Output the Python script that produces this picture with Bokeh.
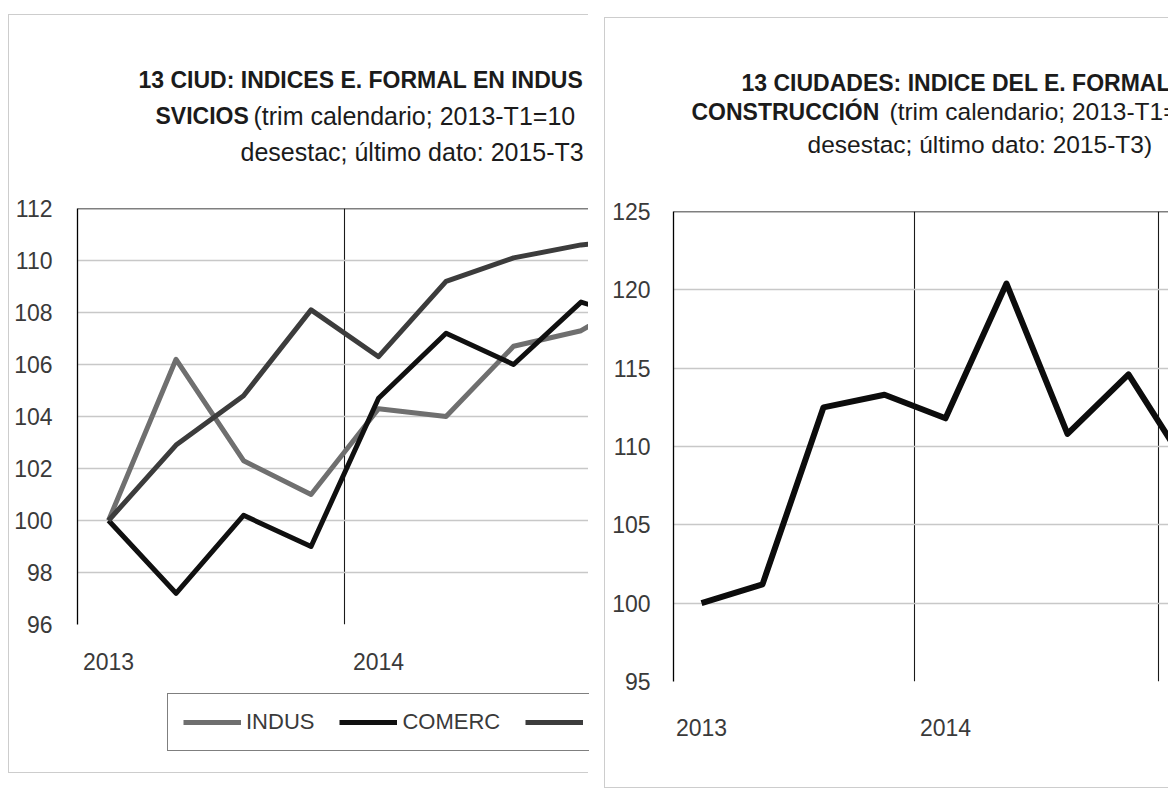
from bokeh.plotting import figure
from bokeh.layouts import row, column
from bokeh.models import (Range1d, FixedTicker, Span, Label, Legend, LegendItem,
                          ColumnDataSource)
from bokeh.embed import file_html
from bokeh.resources import INLINE

# ---------------- data ----------------
quarters = ["2013-T1", "2013-T2", "2013-T3", "2013-T4",
            "2014-T1", "2014-T2", "2014-T3", "2014-T4", "2015-T1"]
year_ticks = [0, 4, 8]
year_names = ["2013", "2014", "2015"]
year_bounds = [3.5, 7.5]

indus = [100.0, 106.2, 102.3, 101.0, 104.3, 104.0, 106.7, 107.3, 108.8]
comerc = [100.0, 97.2, 100.2, 99.0, 104.7, 107.2, 106.0, 108.4, 107.6]
svicios = [100.0, 102.9, 104.8, 108.1, 106.3, 109.2, 110.1, 110.6, 110.8]
construccion = [100.0, 101.2, 112.5, 113.3, 111.8, 120.4, 110.8, 114.6, 108.5]

series_names = ["INDUS", "COMERC", "SVICIOS"]

left_yticks = [96, 98, 100, 102, 104, 106, 108, 110, 112]
right_yticks = [95, 100, 105, 110, 115, 120, 125]

left_title = ["13 CIUD: INDICES E. FORMAL EN INDUS", "SVICIOS",
              "(trim calendario; 2013-T1=10", "desestac; último dato: 2015-T3"]
right_title = ["13 CIUDADES: INDICE DEL E. FORMAL", "CONSTRUCCIÓN",
               "(trim calendario; 2013-T1=", "desestac; último dato:  2015-T3)"]

# ---------------- style ----------------
FONT = "Liberation Sans"
TXT = "#1b1b1b"
TICK = "#3a3a3a"
GRID = "#c8c8c8"
PANEL = "1px solid #cdcdcd"
SERIES_STYLE = {"indus": "#6f6f6f", "comerc": "#101010", "svicios": "#3c3c3c"}

src = ColumnDataSource(dict(x=list(range(len(quarters))), q=quarters,
                            indus=indus, comerc=comerc, svicios=svicios,
                            construccion=construccion))


def style_axes(p, yticks, ystandoff, xstandoff):
    p.yaxis.ticker = FixedTicker(ticks=yticks)
    p.yaxis.axis_line_color = "black"
    p.yaxis.axis_line_width = 1.3
    p.yaxis.major_tick_line_color = None
    p.yaxis.minor_tick_line_color = None
    p.yaxis.major_label_standoff = ystandoff
    p.yaxis.major_label_text_font = FONT
    p.yaxis.major_label_text_font_size = "23px"
    p.yaxis.major_label_text_color = TICK

    p.xaxis.ticker = FixedTicker(ticks=year_ticks)
    p.xaxis.major_label_overrides = {t: n for t, n in zip(year_ticks, year_names)}
    p.xaxis.axis_line_color = None
    p.xaxis.major_tick_line_color = None
    p.xaxis.minor_tick_line_color = None
    p.xaxis.major_label_standoff = xstandoff
    p.xaxis.major_label_text_font = FONT
    p.xaxis.major_label_text_font_size = "23px"
    p.xaxis.major_label_text_color = TICK

    p.ygrid.ticker = FixedTicker(ticks=yticks[:-1])
    p.ygrid.grid_line_color = GRID
    p.ygrid.grid_line_width = 1.7
    p.xgrid.ticker = FixedTicker(ticks=year_bounds)
    p.xgrid.grid_line_color = "#1a1a1a"
    p.xgrid.grid_line_width = 1.1
    p.add_layout(Span(location=yticks[-1], dimension="width",
                      line_color="black", line_width=1.6))


def blank_fig(left, top, width, height, margin, styles):
    # canvas whose ranges are page pixels (y downwards), for titles
    t = figure(width=width, height=height,
               x_range=Range1d(left, left + width),
               y_range=Range1d(top + height, top),
               x_axis_location=None, y_axis_location=None,
               min_border=0, outline_line_color=None, frame_align=False,
               output_backend="svg", toolbar_location=None,
               margin=margin, styles=styles)
    t.grid.visible = False
    return t


def add_label(p, x, y, text, size, bold):
    p.add_layout(Label(x=x, y=y, text=text, text_font=FONT,
                       text_font_size=size,
                       text_font_style="bold" if bold else "normal",
                       text_color=TXT, text_align="left",
                       text_baseline="alphabetic"))


# ---------------- left panel ----------------
t1 = blank_fig(9, 15, 580, 155, (14, 0, 0, 8),
               {"border-left": PANEL, "border-top": PANEL})
add_label(t1, 138, 79, left_title[0], "23px", True)
add_label(t1, 155, 115, left_title[1], "23px", True)
add_label(t1, 253, 115, left_title[2], "25px", False)
add_label(t1, 240, 151, left_title[3], "25px", False)

L_X0, L_XS = -0.46, 67.5
p1 = figure(width=580, height=520,
            x_range=Range1d(L_X0, L_X0 + 512 / L_XS), y_range=Range1d(96, 112),
            output_backend="svg", toolbar_location=None, frame_align=False,
            min_border_left=68, min_border_right=0,
            min_border_top=39, min_border_bottom=65,
            margin=(0, 0, 0, 8),
            styles={"border-left": PANEL},
            outline_line_color=None)
style_axes(p1, left_yticks, 19, 22)
for key in ["indus", "comerc", "svicios"]:
    p1.line("x", key, source=src, line_color=SERIES_STYLE[key], line_width=5,
            line_join="round")

# legend strip below the chart (same series; its plot window shows only the key)
lg = figure(width=580, height=84, x_range=Range1d(0, 1), y_range=Range1d(0, 1),
            x_axis_location=None, y_axis_location=None,
            min_border=0, outline_line_color=None, frame_align=False,
            output_backend="svg", toolbar_location=None,
            margin=(0, 0, 0, 8),
            styles={"border-left": PANEL, "border-bottom": PANEL})
lg.grid.visible = False
items = []
for key, name in zip(["indus", "comerc", "svicios"], series_names):
    r = lg.line("x", key, source=src, line_color=SERIES_STYLE[key],
                line_width=5)
    items.append(LegendItem(label=name, renderers=[r]))
legend = Legend(items=items, orientation="horizontal", location=(158, 22),
                border_line_color="black", border_line_width=1.5,
                padding=15, margin=0, spacing=25,
                glyph_width=58, glyph_height=20, label_standoff=5,
                label_text_font=FONT, label_text_font_size="22px",
                label_text_color=TICK, background_fill_alpha=1)
lg.add_layout(legend, "center")

left_col = column(t1, p1, lg, spacing=0)

# ---------------- right panel ----------------
t2 = blank_fig(606, 18, 564, 152, (17, 0, 0, 16),
               {"border-left": PANEL, "border-top": PANEL})
add_label(t2, 742, 82, right_title[0], "23px", True)
add_label(t2, 692, 111, right_title[1], "23px", True)
add_label(t2, 890, 111, right_title[2], "24.5px", False)
add_label(t2, 808, 144, right_title[3], "24.5px", False)

R_X0, R_XS = -0.459, 61.0
p2 = figure(width=564, height=619,
            x_range=Range1d(R_X0, R_X0 + 496 / R_XS), y_range=Range1d(95, 125),
            output_backend="svg", toolbar_location=None, frame_align=False,
            min_border_left=68, min_border_right=0,
            min_border_top=42, min_border_bottom=107,
            margin=(0, 0, 0, 16),
            styles={"border-left": PANEL, "border-bottom": PANEL},
            outline_line_color=None)
style_axes(p2, right_yticks, 17, 31)
p2.line("x", "construccion", source=src, line_color="#0c0c0c", line_width=6,
        line_join="round")

right_col = column(t2, p2, spacing=0)

layout = row(left_col, right_col, spacing=0)
open("out.html", "w").write(file_html(layout, INLINE))
